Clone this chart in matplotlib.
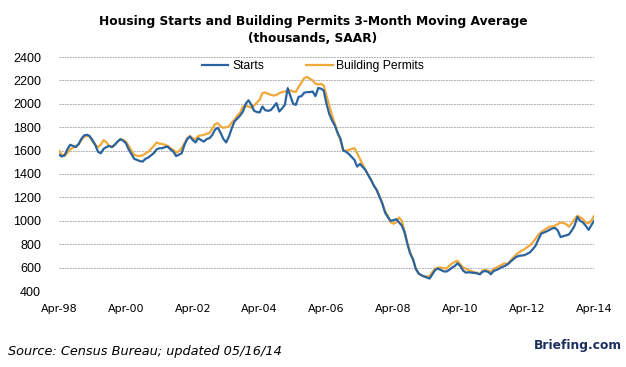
import matplotlib
matplotlib.use("Agg")
import matplotlib.pyplot as plt
import pandas as pd

dates = pd.date_range("1998-04-01", "2014-04-01", freq="MS")

starts = [
    1565, 1550, 1560, 1610, 1650, 1640, 1630, 1655, 1700, 1730, 1735, 1725,
    1690, 1650, 1590, 1577, 1615, 1630, 1640, 1630, 1650, 1677, 1697, 1685,
    1663, 1610, 1570, 1530, 1520, 1510, 1506, 1530, 1540, 1560, 1580, 1610,
    1620, 1620, 1630, 1634, 1610, 1591, 1554, 1565, 1577, 1650, 1700, 1720,
    1690, 1670, 1706, 1690, 1677, 1700, 1706, 1734, 1780, 1795, 1749, 1700,
    1670, 1720, 1790, 1849, 1875, 1900, 1934, 2000, 2030, 1990, 1940, 1930,
    1926, 1977, 1945, 1940, 1946, 1975, 2006, 1934, 1960, 1991, 2134, 2070,
    2000, 1991, 2060, 2065, 2095, 2100, 2100, 2105, 2065, 2135, 2129, 2114,
    2000, 1914, 1857, 1814, 1750, 1700, 1600, 1590, 1571, 1545, 1520, 1463,
    1486, 1460, 1434, 1390, 1349, 1300, 1263, 1206, 1150, 1070, 1029, 1000,
    1005, 1014, 986, 960, 900, 800, 720, 671, 590, 550, 534, 525,
    515, 506, 543, 580, 591, 580, 568, 566, 580, 600, 614, 637,
    614, 575, 557, 560, 557, 555, 551, 543, 565, 571, 563, 543,
    571, 580, 591, 605, 614, 629, 650, 671, 690, 700, 703, 706,
    718, 730, 757, 786, 840, 889, 900, 910, 922, 935, 939, 917,
    861, 868, 875, 883, 917, 958, 1033, 1000, 986, 958, 922, 960,
    1000,
]

permits = [
    1600, 1565, 1555, 1580, 1610, 1625, 1640, 1655, 1690, 1720, 1725, 1720,
    1680, 1650, 1630, 1650, 1690, 1670, 1640, 1630, 1650, 1677, 1700, 1690,
    1677, 1640, 1600, 1563, 1555, 1555, 1560, 1575, 1590, 1615, 1640, 1669,
    1660, 1657, 1650, 1640, 1620, 1606, 1583, 1595, 1620, 1665, 1705, 1726,
    1705, 1697, 1726, 1730, 1734, 1745, 1749, 1791, 1825, 1834, 1806, 1795,
    1800, 1806, 1840, 1863, 1900, 1925, 1977, 1980, 1977, 1965, 1985, 2010,
    2034, 2091, 2097, 2085, 2077, 2070, 2077, 2091, 2100, 2106, 2106, 2115,
    2106, 2100, 2146, 2180, 2220, 2229, 2214, 2200, 2171, 2166, 2170, 2157,
    2071, 1986, 1900, 1830, 1750, 1690, 1600, 1600, 1606, 1615, 1620, 1580,
    1530, 1480, 1434, 1390, 1349, 1300, 1265, 1210, 1150, 1080, 1043, 990,
    975, 986, 1029, 1000, 910, 810, 730, 671, 590, 550, 534, 525,
    523, 529, 563, 590, 600, 600, 595, 591, 615, 635, 650, 657,
    629, 600, 591, 575, 571, 560, 557, 543, 575, 580, 571, 563,
    591, 600, 614, 625, 637, 629, 660, 686, 710, 729, 745, 757,
    775, 790, 814, 847, 880, 903, 920, 935, 950, 950, 960, 972,
    986, 980, 972, 950, 978, 1014, 1042, 1030, 1014, 986, 978, 1000,
    1040,
]

tick_dates = pd.date_range("1998-04-01", "2014-04-01", freq="24MS")
tick_labels = ["Apr-98", "Apr-00", "Apr-02", "Apr-04", "Apr-06",
               "Apr-08", "Apr-10", "Apr-12", "Apr-14"]
y_ticks = [400, 600, 800, 1000, 1200, 1400, 1600, 1800, 2000, 2200, 2400]

W, H = 626, 367
fig = plt.figure(figsize=(W / 100, H / 100), dpi=100)
ax = fig.add_axes([59 / W, 1 - 291 / H, (594 - 59) / W, (291 - 57) / H])

blue = "#2a64a0"
orange = "#f0a838"

ax.plot(dates, starts, color=blue, lw=1.6, label="Starts", zorder=3)
ax.plot(dates, permits, color=orange, lw=1.6, label="Building Permits", zorder=2)

ax.set_ylim(400, 2400)
ax.set_xlim(dates[0], dates[-1])
ax.set_yticks(y_ticks)
ax.set_yticklabels([str(v) for v in y_ticks], fontsize=9, family="Liberation Sans")
ax.set_xticks(tick_dates)
ax.set_xticklabels(tick_labels, fontsize=8, family="DejaVu Sans")
ax.tick_params(axis="both", length=0)
ax.tick_params(axis="x", pad=9)
ax.tick_params(axis="y", pad=13)

for s in ax.spines.values():
    s.set_visible(False)
ax.grid(axis="y", color="#9a9a9a", linestyle=(0, (2, 1.2)), linewidth=0.6)
ax.set_axisbelow(True)

leg = ax.legend(loc="center", bbox_to_anchor=((313 - 59) / 535, 1 - (66 - 57) / 234),
                ncol=2, frameon=False,
                prop={"family": "Liberation Sans", "size": 8.7}, handlelength=2.2,
                handletextpad=0.3, columnspacing=3.5, borderaxespad=0.0,
                borderpad=0.0)

def fit_size(s, target_w, size0, **kw):
    t = fig.text(0, 0, s, fontsize=size0, **kw)
    fig.canvas.draw()
    w = t.get_window_extent().width
    t.remove()
    return size0 * target_w / w

title_kw = dict(fontweight="bold", family="DejaVu Sans Condensed")
ts = fit_size("Housing Starts and Building Permits 3-Month Moving Average", 428, 10, **title_kw)
fig.text(313 / W, 1 - 21 / H, "Housing Starts and Building Permits 3-Month Moving Average",
         ha="center", va="center", fontsize=ts, **title_kw)
fig.text(313 / W, 1 - 39 / H, "(thousands, SAAR)",
         ha="center", va="center", fontsize=ts, **title_kw)

src_kw = dict(style="italic", family="DejaVu Sans Condensed")
ss = fit_size("Source: Census Bureau; updated 05/16/14", 275, 8, **src_kw)
fig.text(8 / W, 1 - 351 / H, "Source: Census Bureau; updated 05/16/14",
         ha="left", va="center", fontsize=ss, **src_kw)

brand_kw = dict(fontweight="bold", family="DejaVu Sans Condensed")
bs = fit_size("Briefing.com", 88, 10, **brand_kw)
fig.text(622 / W, 1 - 346 / H, "Briefing.com", ha="right", va="center",
         fontsize=bs, color="#1b2e5c", **brand_kw)

fig.savefig("out.png", dpi=100)
